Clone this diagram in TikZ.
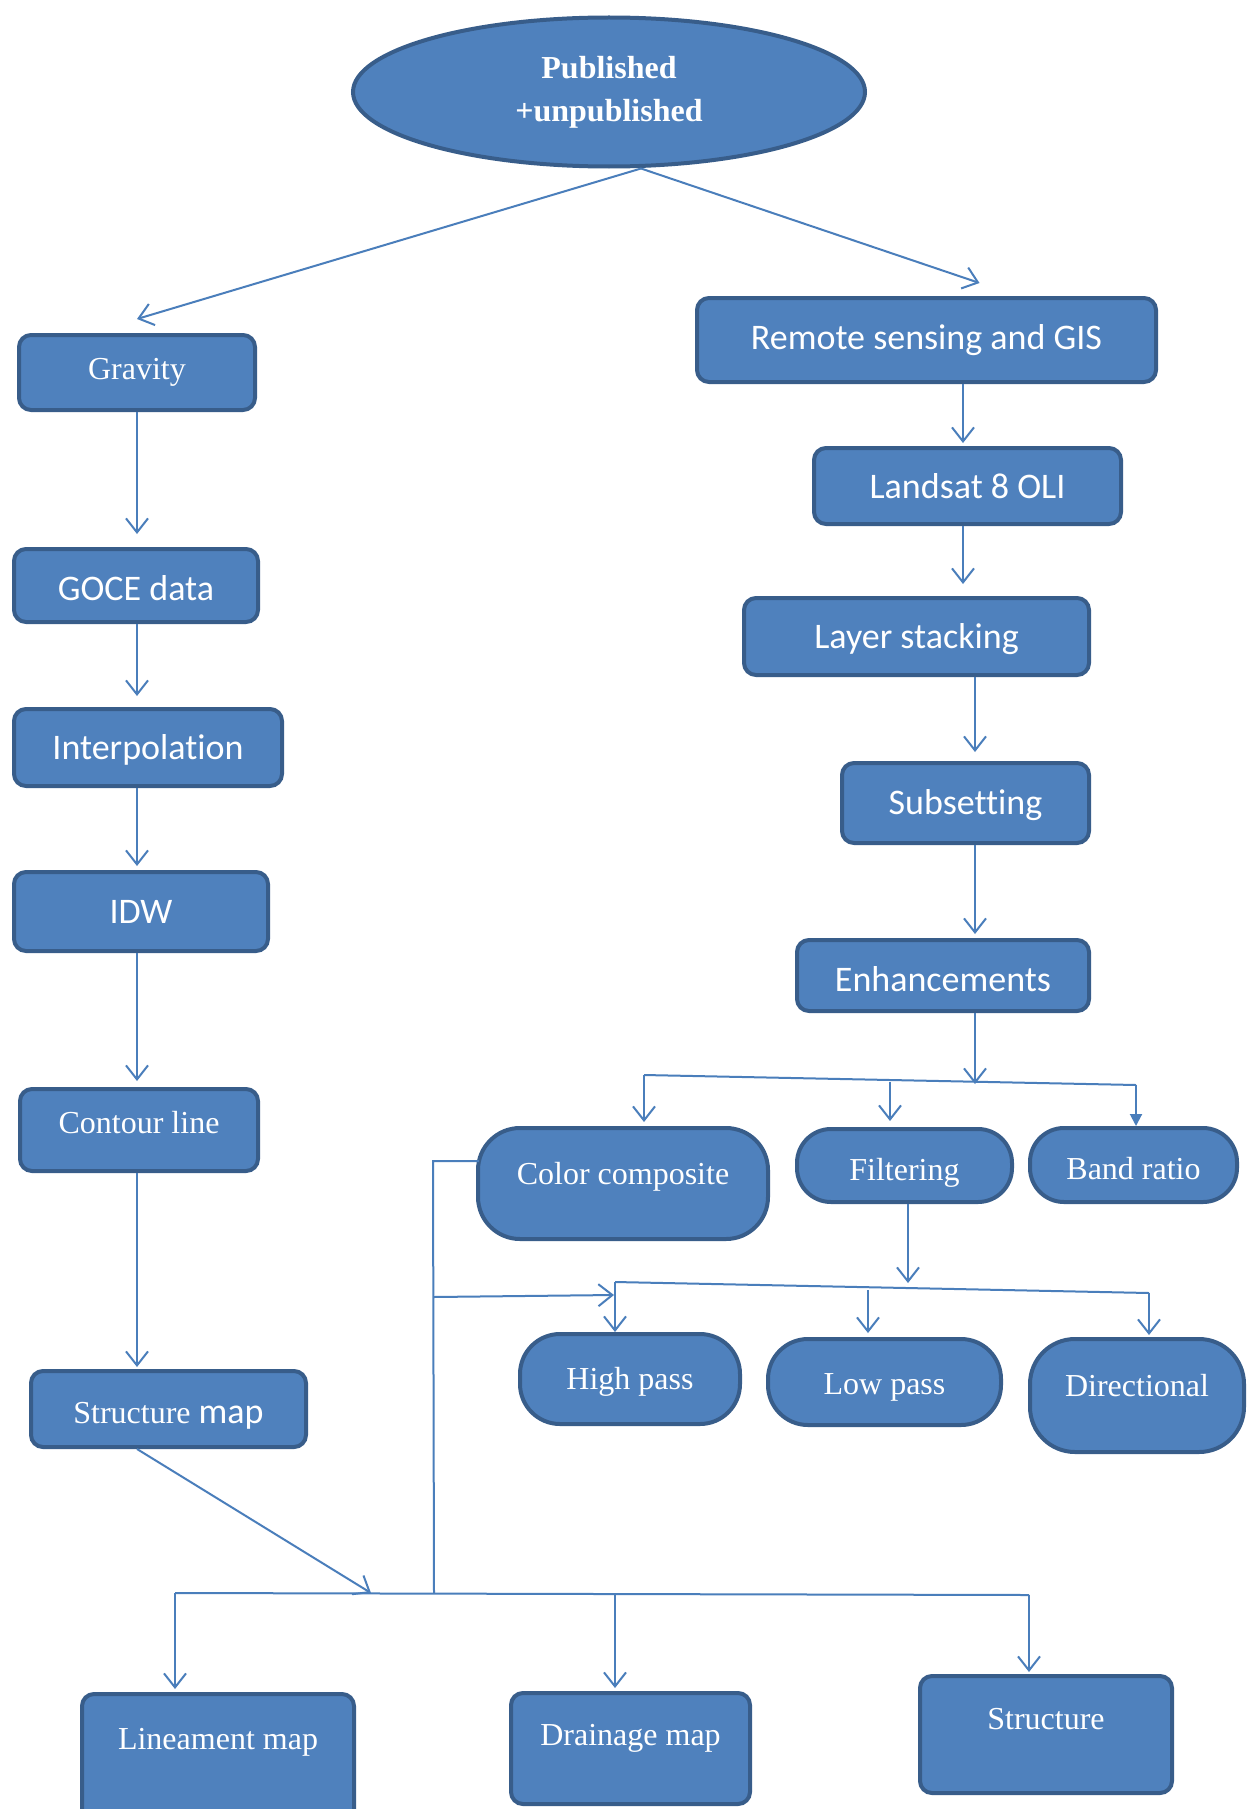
\documentclass[tikz,border=0pt]{standalone}
\usepackage{fontspec}
\setmainfont{Liberation Serif}
\newfontfamily\calfont[Ligatures=CommonOff]{Carlito}
\usetikzlibrary{arrows.meta,shapes.geometric,calc}
\definecolor{fillb}{HTML}{4F81BD}
\definecolor{edgeb}{HTML}{385D8A}
\definecolor{lineb}{HTML}{4A7EBB}
\begin{document}
\begin{tikzpicture}[x=1pt,y=-1pt,
  box/.style={draw=edgeb, fill=fillb, line width=4pt, rounded corners=12pt,
    text=white, inner sep=0pt, align=center, font=\fontsize{32}{38}\selectfont},
  sz/.style 2 args={minimum width=#1pt, minimum height=#2pt},
  sans/.style={font=\calfont\fontsize{36}{42}\selectfont},
  pill/.style={box, rounded corners=#1},
  tx/.style 2 args={text height=#1pt, text depth=#2pt},
  th/.style={text height=#1pt},
  conn/.style={draw=lineb, line width=2pt},
  arr/.style={conn, -{Straight Barb[length=14pt,width=22pt]}},
  farr/.style={conn, -{Triangle[length=12pt,width=12pt]}}
]
\useasboundingbox (0,0) rectangle (1248,1809);
\fill[white] (0,0) rectangle (1248,1809);

% top ellipse
\node[ellipse, draw=edgeb, fill=fillb, line width=4pt, minimum width=512pt,
  minimum height=149pt, inner sep=0pt, text=white, align=center,
  font=\bfseries\fontsize{32}{43}\selectfont] (pub) at (609,92) {Published\\+unpublished};

% left column
\node[box, sz={236}{75}] (grav) at (137,372.5) {Gravity};
\node[box, sans, sz={244}{73}, th=30] (goce) at (136,585.5) {GOCE data};
\node[box, sans, sz={268}{77}, th=30] (interp) at (148,747.5) {Interpolation};
\node[box, sans, sz={254}{79}] (idw) at (141,911.5) {IDW};
\node[box, sz={238}{82}, tx={27}{20}] (cont) at (139,1130) {Contour line};
\node[box, sz={275}{76}, th=34] (smap) at (168.5,1409) {Structure {\calfont\fontsize{36}{42}\selectfont map}};

% right column
\node[box, sans, sz={459}{84}] (rs) at (926.5,340) {Remote sensing and GIS};
\node[box, sans, sz={307}{76}] (land) at (967.5,486) {Landsat 8 OLI};
\node[box, sans, sz={345}{77}, th=30] (layer) at (916.5,636.5) {Layer stacking};
\node[box, sans, sz={247}{80}, th=30] (sub) at (965.5,803) {Subsetting};
\node[box, sans, sz={292}{71}, th=32] (enh) at (943,975.5) {Enhancements};

% enhancement products
\node[pill=42pt, sz={290}{111}, tx={27}{25}] (cc) at (623,1183.5) {Color composite};
\node[pill=34pt, sz={215}{73}, th=36] (filt) at (904.5,1165.5) {Filtering};
\node[pill=34pt, sz={207}{74}, th=29] (band) at (1133.5,1165) {Band ratio};

% filters
\node[pill=40pt, sz={220}{90}, th=27] (hp) at (630,1379) {High pass};
\node[pill=40pt, sz={233}{86}, th=31] (lp) at (884.5,1382) {Low pass};
\node[pill=45pt, sz={214}{113}, tx={29}{27}] (dir) at (1137,1395.5) {Directional};

% outputs
\node[box, sz={272}{129}, tx={29}{47}] (lin) at (218,1758.5) {Lineament map};
\node[box, sz={239}{111}, tx={27}{33}] (drain) at (630.5,1748.5) {Drainage map};
\node[box, sz={252}{117}, tx={27}{37}] (str) at (1046,1734.5) {Structure};

% bus coordinates
\coordinate (b1l) at (644,1075);
\coordinate (b1m) at (890,1082);
\coordinate (b1e) at (975,1084);
\coordinate (b1r) at (1136,1085);
\coordinate (b2l) at (615,1282);
\coordinate (b2m) at (868,1290);
\coordinate (b2e) at (908,1283);
\coordinate (b2r) at (1149,1293);
\coordinate (b2in) at (614,1295);
\coordinate (vtop) at (433,1161);
\coordinate (vmid) at (433.5,1297);
\coordinate (vbot) at (434,1593);
\coordinate (b3l) at (175,1593);
\coordinate (b3s) at (371,1593);
\coordinate (b3m) at (615,1594);
\coordinate (b3r) at (1029,1595);

% from top
\draw[arr] ($(pub.south)+(32,0)$) -- ($(grav.north)+(0,-14)$);
\draw[arr] ($(pub.south)+(32,0)$) -- ($(rs.north)+(53,-13)$);

% left chain
\draw[arr] (grav.south) -- ($(grav.south|-goce.north)+(0,-13)$);
\draw[arr] (goce.south-|grav.south) -- ($(grav.south|-interp.north)+(0,-11)$);
\draw[arr] (interp.south-|grav.south) -- ($(grav.south|-idw.north)+(0,-4)$);
\draw[arr] (idw.south-|grav.south) -- ($(grav.south|-cont.north)+(0,-6)$);
\draw[arr] (cont.south-|grav.south) -- ($(grav.south|-smap.north)+(0,-2)$);
\draw[arr] (smap.south-|grav.south) -- (b3s);

% right chain
\draw[arr] ($(rs.south)+(36.5,0)$) -- ($(land.north)+(-4.5,-3)$);
\draw[arr] ($(land.south)+(-4.5,0)$) -- ($(layer.north)+(46.5,-12)$);
\draw[arr] ($(layer.south)+(58.5,0)$) -- ($(sub.north)+(9.5,-9)$);
\draw[arr] ($(sub.south)+(9.5,0)$) -- ($(enh.north)+(32,-4)$);
\draw[arr] ($(enh.south)+(32,0)$) -- (b1e);

% enhancement bus
\draw[conn] (b1l) -- (b1r);
\draw[arr] (b1l) -- ($(cc.north)+(21,-4)$);
\draw[arr] (b1m) -- ($(filt.north)+(-14.5,-6)$);
\draw[farr] (b1r) -- ($(band.north)+(2.5,0)$);

% filtering bus
\draw[arr] ($(filt.south)+(3.5,0)$) -- (b2e);
\draw[conn] (b2l) -- (b2r);
\draw[arr] (b2l) -- ($(hp.north)+(-15,0)$);
\draw[arr] (b2m) -- ($(lp.north)+(-16.5,-4)$);
\draw[arr] (b2r) -- ($(dir.north)+(12,-2)$);

% color composite line
\draw[conn] ($(cc.west)+(3,-22.5)$) -- (vtop) -- (vbot);
\draw[arr] (vmid) -- (b2in);

% bottom bus
\draw[conn] (b3l) -- (b3r);
\draw[arr] (b3l) -- ($(lin.north)+(-43,-3)$);
\draw[arr] (b3m) -- ($(drain.north)+(-15.5,-3)$);
\draw[arr] (b3r) -- ($(str.north)+(-17,-2)$);
\end{tikzpicture}
\end{document}
